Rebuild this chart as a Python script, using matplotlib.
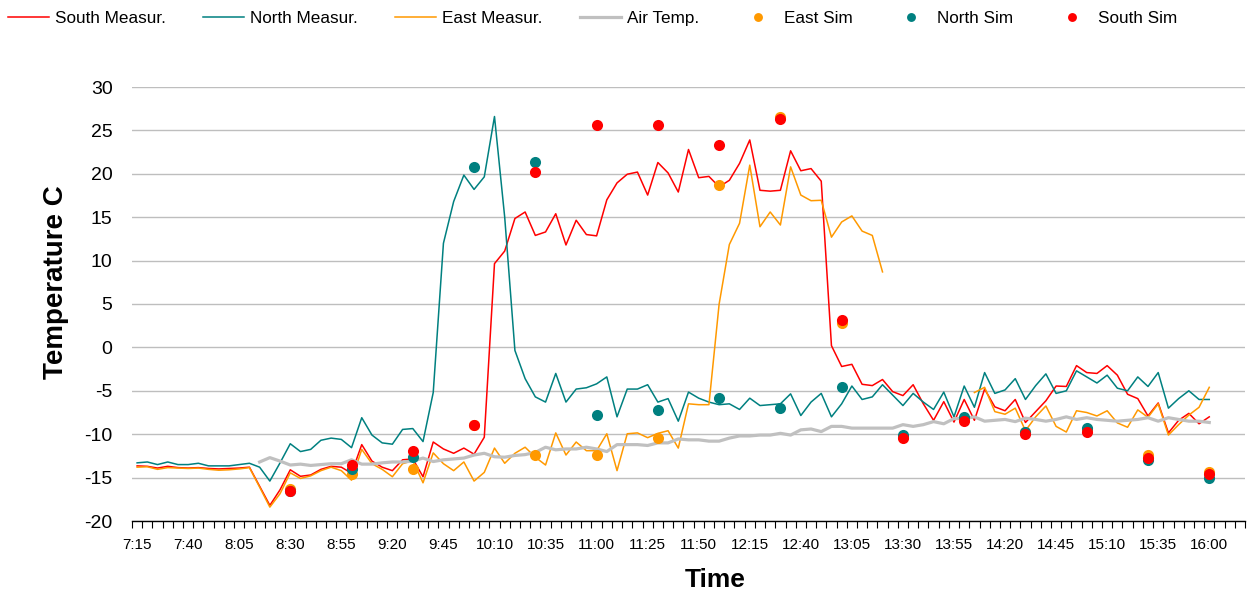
import matplotlib
matplotlib.use("Agg")
import matplotlib.pyplot as plt
import numpy as np

plt.rcParams['font.family'] = ['Liberation Sans', 'DejaVu Sans']
plt.rcParams['axes.unicode_minus'] = False

# ---- categories: 7:15 .. 16:00 every 5 minutes ----
start_min = 7 * 60 + 15
n_cat = 106
times = [f"{(start_min + 5 * k) // 60}:{(start_min + 5 * k) % 60:02d}" for k in range(n_cat)]
tick_labels = times[::5]

south_meas = [-13.65, -13.7, -13.9, -13.7, -13.85, -13.9, -13.85, -13.95, -14.0, -13.95,
              -13.9, -13.8, -16.0, -18.2, -16.4, -14.1, -14.85, -14.7, -14.05, -13.7,
              -13.8, -14.5, -11.2, -13.1, -13.8, -14.2, -12.95, -12.85, -14.9, -10.9,
              -11.7, -12.2, -11.6, -12.3, -10.35, 9.65, 11.1, 14.85, 15.6, 12.9,
              13.3, 15.4, 11.8, 14.65, 13.0, 12.85, 17.0, 18.95, 19.95, 20.2,
              17.55, 21.3, 20.1, 17.9, 22.8, 19.55, 19.7, 18.5, 19.25, 21.2,
              23.9, 18.1, 18.0, 18.1, 22.65, 20.35, 20.6, 19.15, 0.2, -2.2,
              -1.95, -4.25, -4.4, -3.7, -5.1, -5.55, -4.3, -6.5, -8.4, -6.25,
              -8.6, -6.0, -8.4, -4.8, -6.85, -7.3, -6.0, -8.65, -7.4, -6.15,
              -4.45, -4.5, -2.1, -2.9, -3.0, -2.1, -3.2, -5.4, -5.9, -7.9,
              -6.4, -9.85, -8.4, -7.6, -8.8, -8.0]

north_meas = [-13.3, -13.2, -13.5, -13.2, -13.5, -13.5, -13.35, -13.65, -13.65, -13.65,
              -13.5, -13.35, -13.8, -15.4, -13.3, -11.1, -12.0, -11.75, -10.7, -10.45,
              -10.6, -11.55, -8.1, -10.1, -11.0, -11.15, -9.45, -9.35, -10.85, -5.2,
              12.0, 16.8, 19.85, 18.2, 19.65, 26.6, 15.0, -0.35, -3.6, -5.7,
              -6.3, -3.0, -6.3, -4.8, -4.65, -4.2, -3.4, -8.0, -4.8, -4.8,
              -4.3, -6.3, -5.9, -8.5, -5.15, -5.85, -6.3, -6.6, -6.5, -7.15,
              -5.85, -6.7, -6.6, -6.5, -5.35, -7.85, -6.3, -5.3, -8.0, -6.5,
              -4.45, -6.0, -5.7, -4.3, -5.5, -6.7, -5.3, -6.3, -7.15, -5.15,
              -8.0, -4.45, -6.9, -2.9, -5.3, -4.9, -3.6, -6.0, -4.4, -3.05,
              -5.3, -5.0, -2.7, -3.4, -4.1, -3.2, -4.7, -5.0, -3.4, -4.5,
              -2.9, -7.0, -5.9, -5.0, -6.0, -6.0]

east_meas = [-13.8, -13.75, -14.05, -13.85, -13.9, -13.95, -13.9, -14.05, -14.15, -14.1,
             -14.0, -13.85, -16.1, -18.4, -16.85, -14.45, -15.1, -14.8, -14.2, -13.8,
             -14.2, -15.3, -11.75, -13.4, -14.05, -14.9, -13.4, -13.05, -15.6, -12.15,
             -13.4, -14.2, -13.2, -15.4, -14.4, -11.6, -13.35, -12.2, -11.5, -12.65,
             -13.55, -9.85, -12.4, -10.9, -11.9, -11.9, -9.95, -14.2, -9.95, -9.85,
             -10.4, -9.9, -9.6, -11.6, -6.5, -6.6, -6.6, 5.0, 11.85, 14.3,
             21.0, 13.9, 15.6, 14.1, 20.8, 17.55, 16.9, 16.95, 12.7, 14.45,
             15.15, 13.4, 12.9, 8.7, None, None, None, None, None, None,
             None, None, -5.2, -4.6, -7.4, -7.7, -7.0, -9.6, -8.0, -6.75,
             -9.1, -9.75, -7.3, -7.5, -7.9, -7.3, -8.7, -9.2, -7.2, -8.05,
             -6.5, -10.1, -8.9, -7.8, -6.9, -4.6]

air_temp = [None] * 12 + [
    -13.2, -12.7, -13.1, -13.55, -13.45, -13.6, -13.5, -13.4,
    -13.4, -12.95, -13.45, -13.45, -13.3, -13.2, -13.2, -13.1, -12.75, -13.15,
    -12.95, -12.85, -12.75, -12.4, -12.2, -12.6, -12.65, -12.45, -12.35, -12.1,
    -11.5, -11.8, -11.7, -11.7, -11.5, -11.7, -12.0, -11.2, -11.2, -11.2,
    -11.3, -11.0, -11.0, -10.55, -10.65, -10.65, -10.8, -10.8, -10.45, -10.2,
    -10.2, -10.1, -10.1, -9.9, -10.1, -9.5, -9.4, -9.7, -9.1, -9.1,
    -9.3, -9.3, -9.3, -9.3, -9.3, -8.9, -9.1, -8.9, -8.55, -8.8,
    -8.2, -8.2, -8.0, -8.5, -8.4, -8.3, -8.55, -8.15, -8.3, -8.5,
    -8.3, -8.0, -8.3, -8.1, -8.3, -8.4, -8.5, -8.4, -8.3, -8.1,
    -8.5, -8.1, -8.3, -8.5, -8.5, -8.65]

sim_times = ['8:30', '9:00', '9:30', '10:00', '10:30', '11:00', '11:30', '12:00',
             '12:30', '13:00', '13:30', '14:00', '14:30', '15:00', '15:30', '16:00']
east_sim = [-16.3, -14.6, -14.0, -8.9, -12.45, -12.35, -10.4, 18.75,
            26.6, 2.8, -10.3, -8.3, -9.7, -9.5, -12.4, -14.3]
north_sim = [-16.5, -14.0, -12.65, 20.8, 21.35, -7.75, -7.25, -5.85,
             -6.95, -4.6, -10.1, -8.0, -9.8, -9.3, -13.0, -15.0]
south_sim = [-16.6, -13.5, -11.9, -8.9, 20.2, 25.6, 25.6, 23.3,
             26.3, 3.2, -10.4, -8.5, -10.0, -9.7, -12.7, -14.6]

RED = '#FF0000'
TEAL = '#008080'
ORANGE = '#FF9900'
GRAY = '#C0C0C0'


def arr(v):
    return np.array([np.nan if x is None else x for x in v], dtype=float)


x = np.arange(n_cat)
xs = np.array([times.index(t) for t in sim_times])

fig = plt.figure(figsize=(12.5, 5.94), dpi=100)
ax = fig.add_axes([132 / 1250, 1 - 521 / 594, (1245 - 132) / 1250, (521 - 87) / 594])

ax.plot(x, arr(south_meas), color=RED, lw=1.1, label='South Measur.', zorder=3)
ax.plot(x, arr(north_meas), color=TEAL, lw=1.1, label='North Measur.', zorder=3)
ax.plot(x, arr(east_meas), color=ORANGE, lw=1.1, label='East Measur.', zorder=3)
ax.plot(x, arr(air_temp), color=GRAY, lw=2.3, label='Air Temp.', zorder=3)
ax.plot(xs, east_sim, 'o', color=ORANGE, ms=8, mec='none', label='East Sim', zorder=4)
ax.plot(xs, north_sim, 'o', color=TEAL, ms=8, mec='none', label='North Sim', zorder=4)
ax.plot(xs, south_sim, 'o', color=RED, ms=8, mec='none', label='South Sim', zorder=4)

ax.set_xlim(-0.5, 108.5)
ax.set_ylim(-20, 30)
ax.set_yticks(np.arange(-20, 31, 5))
ax.yaxis.grid(True, color='#BEBEBE', lw=1.0)
ax.set_axisbelow(True)
for s in ['left', 'right', 'top']:
    ax.spines[s].set_visible(False)
ax.spines['bottom'].set_color('black')
ax.spines['bottom'].set_linewidth(1.0)

ax.set_xticks(x[::5])
ax.set_xticklabels(tick_labels)
ax.set_xticks(np.arange(-0.5, 109, 1), minor=True)
ax.tick_params(axis='x', which='major', length=0, pad=12, labelsize=11)
ax.tick_params(axis='x', which='minor', length=5, width=0.8, color='black')
ax.tick_params(axis='y', length=0, pad=14, labelsize=14)

ax.set_xlabel('Time', fontsize=19, fontweight='bold')
ax.xaxis.set_label_coords((715 - 132) / 1113, -0.108)
ax.set_ylabel('Temperature C', fontsize=20, fontweight='bold')
ax.yaxis.set_label_coords(-0.057, (521 - 282) / 434)

fig.legend(loc='upper left', bbox_to_anchor=(0.0, 0.994), ncol=7, frameon=False,
           fontsize=12.3, handlelength=2.4, handletextpad=0.35, columnspacing=2.2,
           borderaxespad=0.0, borderpad=0.45, numpoints=1, markerscale=0.8)

fig.savefig('out.png', dpi=100)
